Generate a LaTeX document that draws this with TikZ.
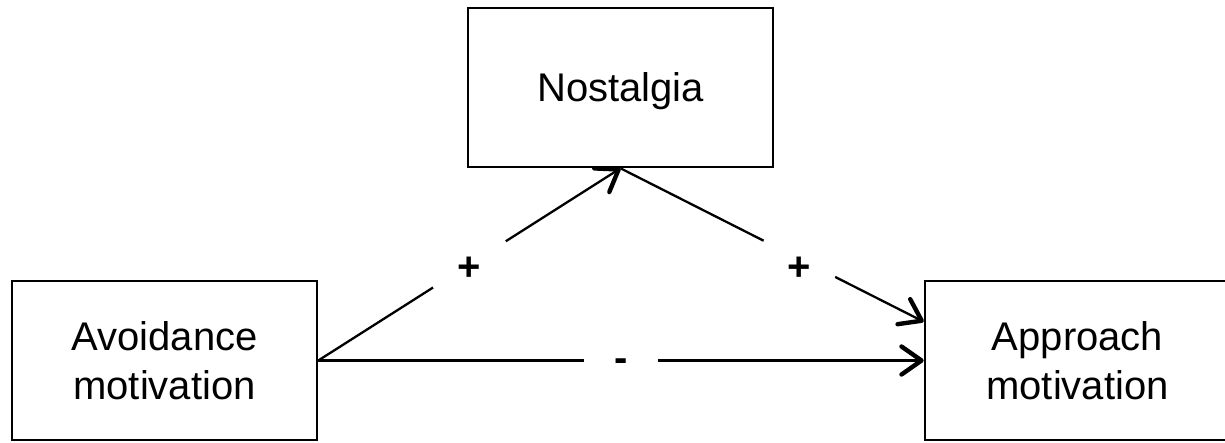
\documentclass[tikz,border=0pt]{standalone}
\usepackage{fontspec}
\setmainfont{Liberation Sans}
\usetikzlibrary{arrows.meta,calc}
\begin{document}
\begin{tikzpicture}[x=1pt,y=-1pt,
  box/.style={draw, line width=2.6pt, minimum width=305pt, minimum height=159pt,
    inner sep=0pt, align=center, font=\fontsize{40}{49}\selectfont, text depth=0pt},
  conn/.style={line width=2.3pt,
    -{Straight Barb[length=20pt,width=28pt,line width=4.4pt,round]}},
  gap/.style={circle, fill=white, inner sep=0pt},
  sign/.style={font=\fontsize{40}{47}\selectfont\bfseries, inner sep=0pt}]
\clip (0,0) rectangle (1225,442);
\useasboundingbox (0,0) rectangle (1225,442);

% the three variables
\node[box] (nost)  at (620.5,87.5)  {Nostalgia};
\node[box] (avoid) at (164.5,360.5) {Avoidance\\motivation};
\node[box] (appr)  at (1077.5,360.5) {Approach\\motivation};
\coordinate (apin) at ($(appr.north west)!0.26!(appr.south west)$);

% paths, each broken by a white gap for its sign
\draw[conn] (avoid.east) -- node[gap, pos=.5, minimum size=86pt] (g1) {} (nost.south);
\draw[conn] (nost.south) -- node[gap, pos=.59, minimum size=80pt] (g2) {} (apin);
\draw[conn] (avoid.east) -- node[gap, pos=.5, minimum size=74pt] (g3) {} (appr.west);

% signs of the effects
\node[sign] at ($(g1)+(0,4)$)  {+};
\node[sign] at ($(g2)+(0,10)$) {+};
\node[sign] at ($(g3)+(0,5)$)  {-};
\end{tikzpicture}
\end{document}
